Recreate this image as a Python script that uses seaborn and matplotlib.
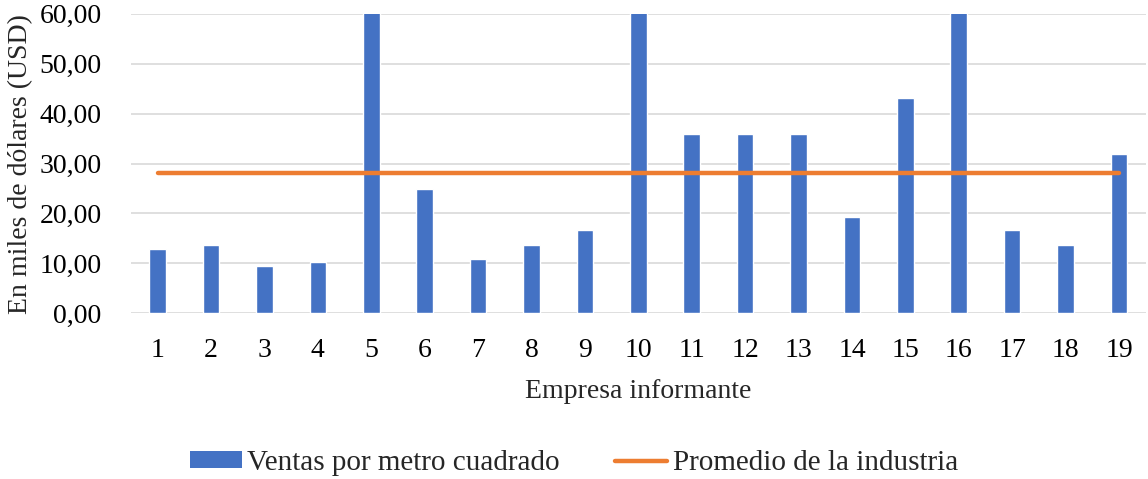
import numpy as np
import pandas as pd
import matplotlib
matplotlib.use("Agg")
import matplotlib.pyplot as plt
import seaborn as sns
from matplotlib.ticker import FuncFormatter
from matplotlib.patches import Patch
from matplotlib.lines import Line2D

# Data
empresas = [str(i) for i in range(1, 20)]
ventas_m2 = [12.8, 13.7, 9.5, 10.2, 63.5, 24.9, 10.9, 13.7, 16.7, 63.0,
             35.9, 35.9, 35.9, 19.2, 43.1, 62.8, 16.6, 13.7, 31.9]
promedio_industria = 28.1

BLUE = "#4472C4"
ORANGE = "#ED7D31"
GRID = "#D9D9D9"
FS = 20

sns.set_theme(style="white")
plt.rcParams["font.family"] = ["Liberation Serif", "DejaVu Serif"]

df = pd.DataFrame({"empresa": empresas, "ventas": ventas_m2})
df["promedio"] = promedio_industria
df["pos"] = np.arange(len(empresas))

fig = plt.figure(figsize=(11.48, 4.79), dpi=100)
ax = fig.add_axes([0.114, 0.346, 0.884, 0.625])

sns.barplot(data=df, x="empresa", y="ventas", color=BLUE, width=0.31,
            saturation=1, ax=ax, zorder=2)
sns.lineplot(data=df, x="pos", y="promedio", color=ORANGE, linewidth=3.2,
             ax=ax, zorder=3, solid_capstyle="round")

ax.set_xlim(-0.5, len(empresas) - 0.5)
ax.set_ylim(0, 60)
ax.set_yticks(np.arange(0, 61, 10))
ax.yaxis.set_major_formatter(FuncFormatter(lambda v, p: f"{v:.2f}".replace(".", ",")))
ax.grid(axis="y", color=GRID, linewidth=1.2, zorder=0)
ax.set_axisbelow(True)
for s in ax.spines.values():
    s.set_visible(False)
ax.tick_params(axis="both", labelsize=FS, colors="black", length=0)
ax.tick_params(axis="x", pad=18)
ax.tick_params(axis="y", pad=21)

ax.set_xlabel("Empresa informante", fontsize=FS, labelpad=11)
ax.set_ylabel("En miles de dólares (USD)", fontsize=FS, labelpad=5)

handles = [Patch(facecolor=BLUE, edgecolor="none"),
           Line2D([0], [0], color=ORANGE, linewidth=3.2, solid_capstyle="round")]
fig.legend(handles, ["Ventas por metro cuadrado", "Promedio de la industria"],
           loc="center", bbox_to_anchor=(0.5, 1 - 463 / 479), ncol=2,
           frameon=False, fontsize=21, handlelength=1.78, handleheight=0.5,
           handletextpad=0.2, columnspacing=1.9)

fig.savefig("out.png", dpi=100)
